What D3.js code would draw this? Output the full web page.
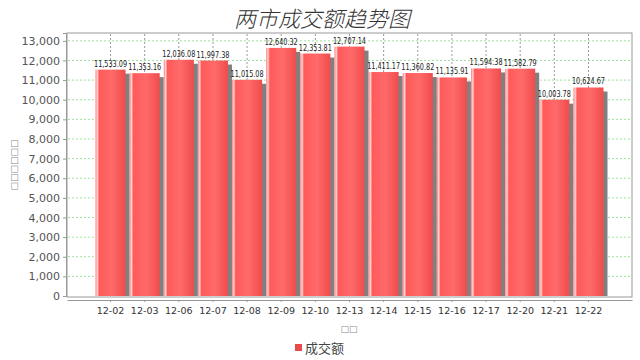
<!DOCTYPE html>
<html>
<head>
<meta charset="utf-8">
<script src="https://cdn.jsdelivr.net/npm/d3@7"></script>
<style>
  body { margin: 0; background: #fff; }
  svg { display: block; }
</style>
</head>
<body>
<script>
// chart data
const dates = ["12-02", "12-03", "12-06", "12-07", "12-08", "12-09", "12-10", "12-13",
  "12-14", "12-15", "12-16", "12-17", "12-20", "12-21", "12-22"];
const amounts = [11533.09, 11353.16, 12036.08, 11997.38, 11015.08, 12640.32, 12353.81, 12707.14,
  11411.17, 11360.82, 11135.91, 11594.38, 11582.79, 10003.78, 10624.67];
const yTicks = d3.range(0, 13001, 1000);
const seriesName = "成交额";

const width = 640, height = 360;
const plot = { left: 67, right: 632, top: 33, bottom: 297 };

const svg = d3.select("body").append("svg")
  .attr("width", width)
  .attr("height", height);

// bar gradient (light stripe at the left edge, darker to the right)
const grad = svg.append("defs").append("linearGradient")
  .attr("id", "barGrad")
  .attr("x1", "0%").attr("x2", "100%");
[["0%", "#ff7a7a"], ["6%", "#ffd6d6"], ["12%", "#ff5a5a"], ["55%", "#ff6a6a"], ["100%", "#f04c4c"]]
  .forEach(s => grad.append("stop").attr("offset", s[0]).attr("stop-color", s[1]));

const x = d3.scaleBand()
  .domain(dates)
  .range([plot.left, plot.right])
  .paddingInner(0.12)
  .paddingOuter(0.835);

const y = d3.scaleLinear()
  .domain([0, 13400])
  .range([296, plot.top]);

// title
svg.append("text")
  .attr("x", 322).attr("y", 27)
  .attr("text-anchor", "middle")
  .style("font-family", "'Noto Sans CJK SC', sans-serif")
  .style("font-size", "22px")
  .style("font-weight", "300")
  .style("font-style", "italic")
  .attr("fill", "#333")
  .text("两市成交额趋势图");

// plot frame
svg.append("rect")
  .attr("x", plot.left).attr("y", plot.top)
  .attr("width", plot.right - plot.left).attr("height", plot.bottom - plot.top)
  .attr("fill", "#fff").attr("stroke", "#999");

// horizontal grid (dotted green)
svg.append("g").selectAll("line")
  .data(yTicks.filter(d => d > 0))
  .enter().append("line")
  .attr("x1", plot.left + 1).attr("x2", plot.right - 1)
  .attr("y1", d => y(d)).attr("y2", d => y(d))
  .attr("stroke", "#9be39b").attr("stroke-dasharray", "2,2");

// vertical grid (dashed gray at category centers)
svg.append("g").selectAll("line")
  .data(dates)
  .enter().append("line")
  .attr("x1", d => x(d) + x.bandwidth() / 2).attr("x2", d => x(d) + x.bandwidth() / 2)
  .attr("y1", plot.top + 1).attr("y2", plot.bottom)
  .attr("stroke", "#999").attr("stroke-dasharray", "2,2");

// y axis
const yAxis = svg.append("g")
  .attr("transform", `translate(${plot.left - 1},0)`)
  .call(d3.axisLeft(y).tickValues(yTicks).tickSize(3).tickFormat(d3.format(",")));
yAxis.select(".domain").attr("stroke", "#999");
yAxis.selectAll(".tick line").attr("stroke", "#999");
yAxis.selectAll("text")
  .attr("fill", "#555")
  .style("font-family", "'DejaVu Sans', sans-serif")
  .style("font-size", "11px");

// x axis
const xAxis = svg.append("g")
  .attr("transform", "translate(0,300)")
  .call(d3.axisBottom(x).tickSize(2).tickSizeOuter(0));
xAxis.select(".domain").attr("stroke", "#999");
xAxis.selectAll(".tick line").attr("stroke", "#999");
xAxis.selectAll("text")
  .attr("fill", "#333")
  .attr("dy", "0.95em")
  .style("font-family", "'DejaVu Sans', sans-serif")
  .style("font-size", "9.5px");

// axis labels (missing glyphs in original)
svg.append("text")
  .attr("transform", "translate(17,165) rotate(-90)")
  .attr("text-anchor", "middle")
  .attr("fill", "#888")
  .style("font-family", "'DejaVu Sans', sans-serif")
  .style("font-size", "9px")
  .text("□□□□□□");

svg.append("text")
  .attr("x", 349).attr("y", 332)
  .attr("text-anchor", "middle")
  .attr("fill", "#888")
  .style("font-family", "'DejaVu Sans', sans-serif")
  .style("font-size", "9px")
  .text("□□");

// bars with shadow
const bars = svg.append("g").selectAll("g")
  .data(dates.map((d, i) => ({ date: d, value: amounts[i] })))
  .enter().append("g");

bars.append("rect")
  .attr("x", d => x(d.date) + 4)
  .attr("y", d => y(d.value) + 4)
  .attr("width", x.bandwidth())
  .attr("height", d => y(0) - y(d.value) - 4)
  .attr("fill", "#808080");

bars.append("rect")
  .attr("x", d => x(d.date))
  .attr("y", d => y(d.value))
  .attr("width", x.bandwidth())
  .attr("height", d => y(0) - y(d.value))
  .attr("fill", "url(#barGrad)");

bars.append("text")
  .attr("x", d => x(d.date) + x.bandwidth() / 2)
  .attr("y", d => y(d.value) - 3)
  .attr("text-anchor", "middle")
  .attr("textLength", 33)
  .attr("lengthAdjust", "spacingAndGlyphs")
  .attr("fill", "#222")
  .style("font-family", "'DejaVu Sans', sans-serif")
  .style("font-size", "9.5px")
  .text(d => d3.format(",.2f")(d.value));

// legend
svg.append("rect")
  .attr("x", 295).attr("y", 344)
  .attr("width", 7).attr("height", 7)
  .attr("fill", "#e84a4a");
svg.append("text")
  .attr("x", 305).attr("y", 353)
  .attr("fill", "#444")
  .style("font-family", "'Noto Sans CJK SC', sans-serif")
  .style("font-size", "13px")
  .text(seriesName);
</script>
</body>
</html>
